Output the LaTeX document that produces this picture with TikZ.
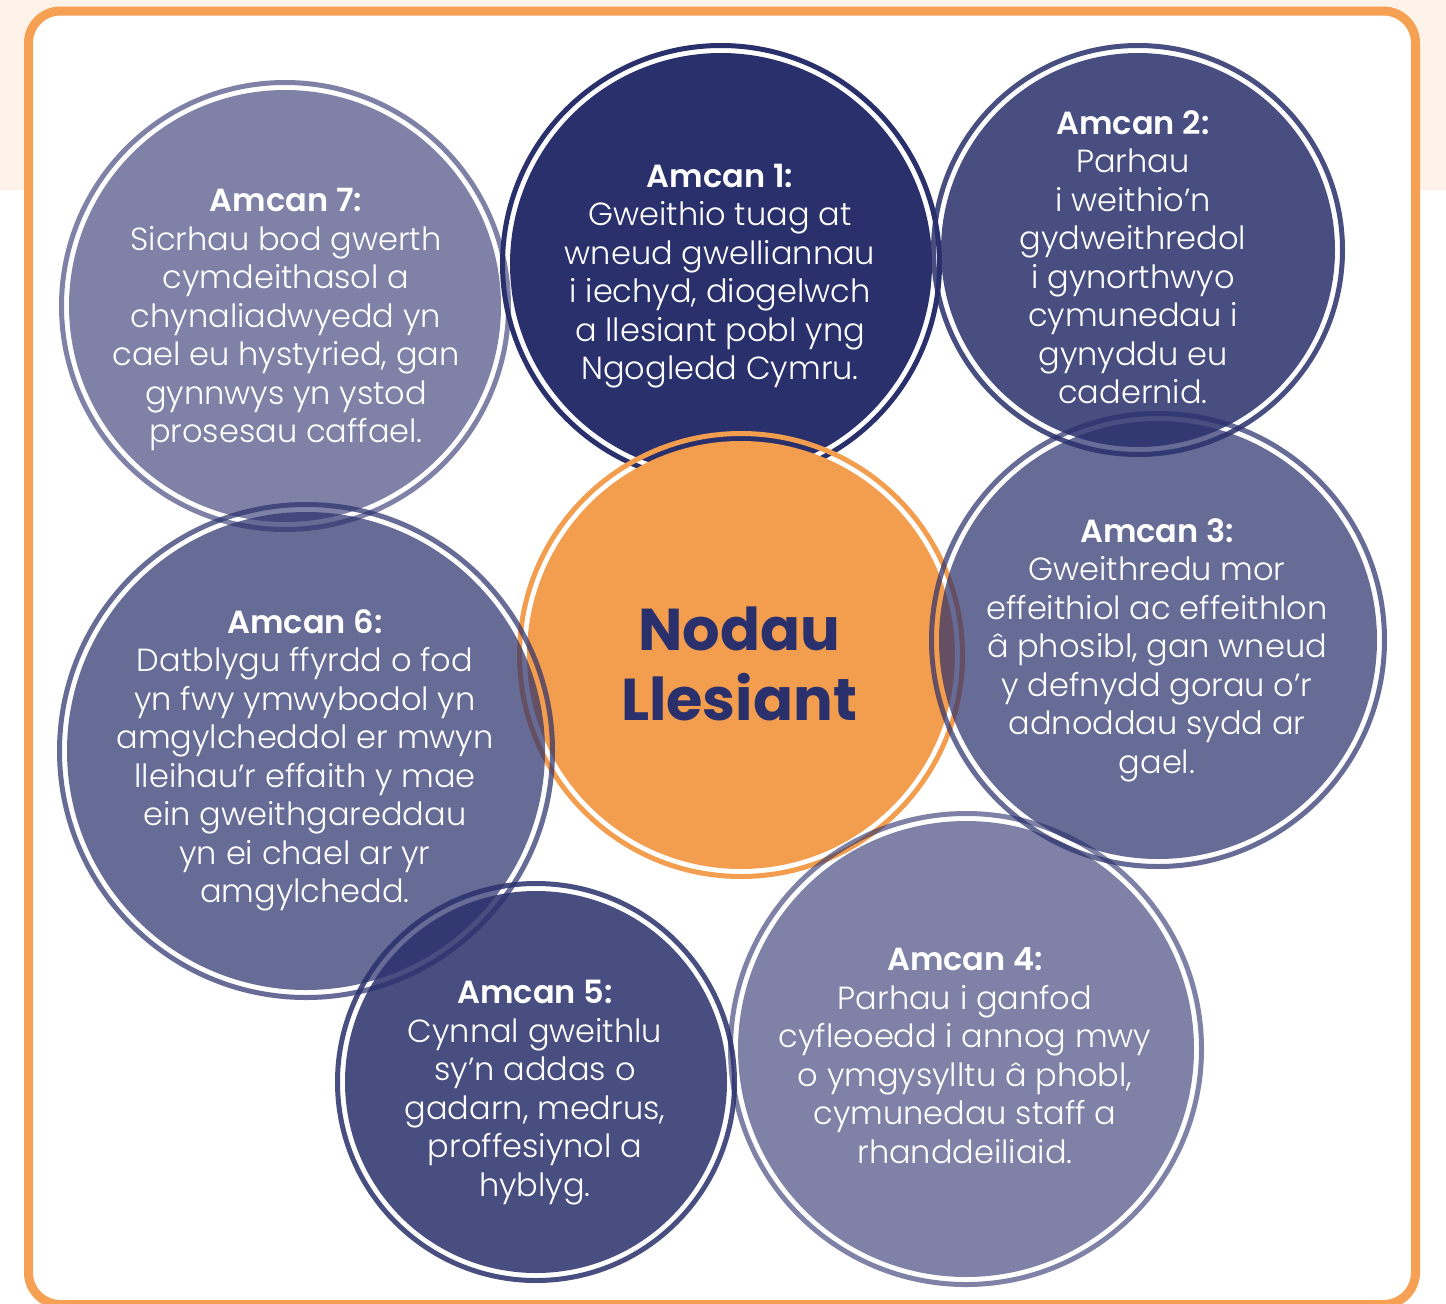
\documentclass[tikz,border=0pt]{standalone}
\usepackage{fontspec}
\setmainfont{Poppins}[UprightFont={* Light}, BoldFont={* SemiBold}]
\newfontfamily\titlefont{Poppins}
\begin{document}
\begin{tikzpicture}[x=1pt,y=-1pt]
\definecolor{navy}{RGB}{42,48,108}
\definecolor{orng}{RGB}{243,157,78}
\definecolor{frameor}{RGB}{245,160,82}
\definecolor{cream}{RGB}{253,243,233}
\tikzset{
 goaltext/.style={text=white, align=center, font=\fontsize{32}{38.5}\selectfont, inner sep=0pt},
 ringline/.style={line width=5pt},
}
\useasboundingbox (0,0) rectangle (1446,1304);
\clip (0,0) rectangle (1446,1304);
\fill[white] (0,0) rectangle (1446,1304);
\fill[cream] (0,0) rectangle (1446,190);
\draw[frameor, line width=9pt, fill=white, rounded corners=32pt] (28.5,11) rectangle (1415.5,1304.5);
% circle 1
\fill[navy] (721,264) circle[radius=211pt];
\draw[navy, ringline] (721,264) circle[radius=218.5pt];
% orange centre
\fill[orng] (741,655) circle[radius=214pt];
\draw[orng, ringline] (741,655) circle[radius=221.5pt];
% circle 2
\fill[navy, opacity=0.85] (1138,250) circle[radius=197pt];
\draw[navy, opacity=0.85, ringline] (1138,250) circle[radius=204.5pt];
% circle 3
\fill[navy, opacity=0.71] (1158,640) circle[radius=219pt];
\draw[navy, opacity=0.71, ringline] (1158,640) circle[radius=226.5pt];
% circle 4
\fill[navy, opacity=0.6] (966,1049) circle[radius=228pt];
\draw[navy, opacity=0.6, ringline] (966,1049) circle[radius=235.5pt];
% circle 5
\fill[navy, opacity=0.85] (536,1082) circle[radius=191pt];
\draw[navy, opacity=0.85, ringline] (536,1082) circle[radius=198.5pt];
% circle 6
\fill[navy, opacity=0.71] (306,751) circle[radius=239pt];
\draw[navy, opacity=0.71, ringline] (306,751) circle[radius=246.5pt];
% circle 7
\fill[navy, opacity=0.6] (285,306) circle[radius=216pt];
\draw[navy, opacity=0.6, ringline] (285,306) circle[radius=223.5pt];

\node[goaltext] (t1) at (720,276) {\textbf{Amcan 1:}\\Gweithio tuag at\\wneud gwelliannau\\i iechyd, diogelwch\\a llesiant pobl yng\\Ngogledd Cymru.};
\node[goaltext] (t2) at (1133,257) {\textbf{Amcan 2:}\\Parhau\\i weithio’n\\gydweithredol\\i gynorthwyo\\cymunedau i\\gynyddu eu\\cadernid.};
\node[goaltext] (t3) at (1157,650) {\textbf{Amcan 3:}\\Gweithredu mor\\effeithiol ac effeithlon\\â phosibl, gan wneud\\y defnydd gorau o’r\\adnoddau sydd ar\\gael.};
\node[goaltext] (t4) at (965,1055.5) {\textbf{Amcan 4:}\\Parhau i ganfod\\cyfleoedd i annog mwy\\o ymgysylltu â phobl,\\cymunedau staff a\\rhanddeiliaid.};
\node[goaltext] (t5) at (535,1092.5) {\textbf{Amcan 5:}\\Cynnal gweithlu\\sy’n addas o\\gadarn, medrus,\\proffesiynol a\\hyblyg.};
\node[goaltext] (t6) at (305,760.5) {\textbf{Amcan 6:}\\Datblygu ffyrdd o fod\\yn fwy ymwybodol yn\\amgylcheddol er mwyn\\lleihau’r effaith y mae\\ein gweithgareddau\\yn ei chael ar yr\\amgylchedd.};
\node[goaltext] (t7) at (286,319.5) {\textbf{Amcan 7:}\\Sicrhau bod gwerth\\cymdeithasol a\\chynaliadwyedd yn\\cael eu hystyried, gan\\gynnwys yn ystod\\prosesau caffael.};
\node[text=navy, align=center, inner sep=0pt, font=\titlefont\bfseries\fontsize{59}{70}\selectfont] (title) at (739,664) {Nodau\\Llesiant};
\end{tikzpicture}
\end{document}
